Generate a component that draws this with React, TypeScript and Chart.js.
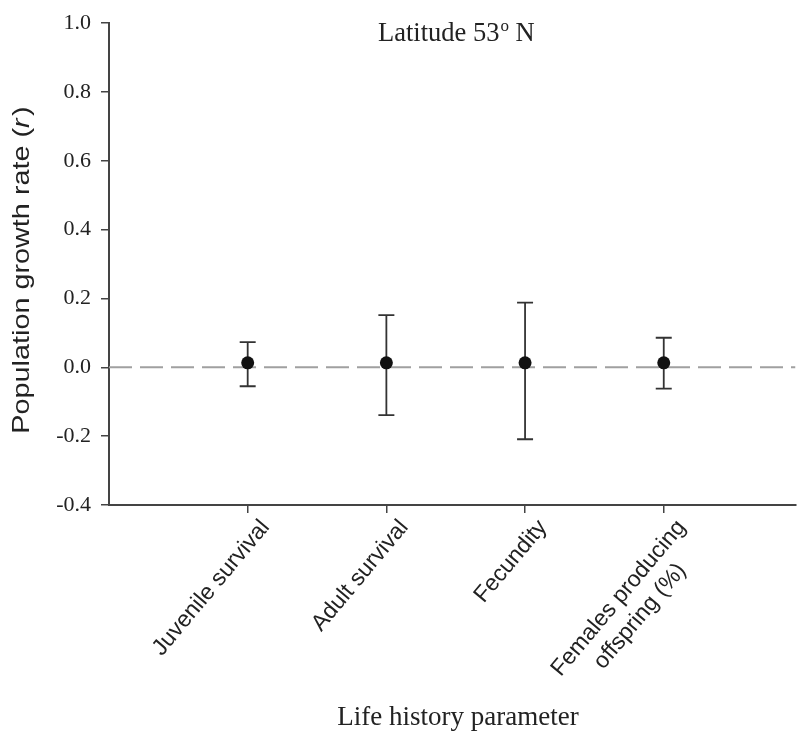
import React, { useEffect, useRef } from 'react';
import { Chart, registerables } from 'chart.js';

Chart.register(...registerables);

const categories: string[][] = [
  ['Juvenile survival'],
  ['Adult survival'],
  ['Fecundity'],
  ['Females producing', 'offspring (%)'],
];
const positions = [1, 2, 3, 4];
const means = [0.013, 0.013, 0.013, 0.013];
const upper = [0.073, 0.152, 0.188, 0.086];
const lower = [-0.055, -0.139, -0.209, -0.062];
const yTicks = [-0.4, -0.2, 0.0, 0.2, 0.4, 0.6, 0.8, 1.0];
const refLineX = [0, 4.95];
const refLineY = [0, 0];

const chartTitle = 'Latitude 53';
const chartTitleSup = 'o';
const chartTitleEnd = ' N';
const xTitle = 'Life history parameter';
const yTitleA = 'Population growth rate (';
const yTitleB = 'r';
const yTitleC = ')';

export default function App() {
  const ref = useRef<HTMLCanvasElement>(null);

  useEffect(() => {
    document.body.style.margin = '0';
    const canvas = ref.current;
    if (!canvas) return;

    const errorBars = {
      id: 'errorBars',
      afterDatasetDraw(chart: any, args: any) {
        if (args.index !== 1) return;
        const { ctx, scales } = chart;
        const x = scales.x;
        const y = scales.y;
        ctx.save();
        ctx.strokeStyle = '#333';
        ctx.lineWidth = 1.8;
        positions.forEach((p, i) => {
          const px = x.getPixelForValue(p);
          const yt = y.getPixelForValue(upper[i]);
          const yb = y.getPixelForValue(lower[i]);
          ctx.beginPath();
          ctx.moveTo(px, yt);
          ctx.lineTo(px, yb);
          ctx.moveTo(px - 8, yt);
          ctx.lineTo(px + 8, yt);
          ctx.moveTo(px - 8, yb);
          ctx.lineTo(px + 8, yb);
          ctx.stroke();
        });
        ctx.restore();
      },
    };

    const texts = {
      id: 'texts',
      afterDraw(chart: any) {
        const { ctx, scales } = chart;
        const xs = scales.x;
        ctx.save();
        ctx.fillStyle = '#222';

        // Category labels (rotated)
        const catFont = '23px "Liberation Sans"';
        const ang = (50 * Math.PI) / 180;
        positions.forEach((p, i) => {
          const px = xs.getPixelForValue(p);
          const lines = categories[i];
          ctx.save();
          ctx.font = catFont;
          const maxW = Math.max(...lines.map((l) => ctx.measureText(l).width));
          ctx.translate(px + 9, 516);
          ctx.rotate(-ang);
          ctx.textAlign = 'center';
          ctx.textBaseline = 'top';
          lines.forEach((l, k) => {
            ctx.fillText(l, -maxW / 2, k * 28);
          });
          ctx.restore();
        });

        // Title
        ctx.textAlign = 'left';
        ctx.textBaseline = 'alphabetic';
        ctx.font = '26.5px "Liberation Serif"';
        const x0 = 378;
        ctx.fillText(chartTitle, x0, 41);
        const w1 = ctx.measureText(chartTitle).width;
        ctx.font = '17px "Liberation Serif"';
        ctx.fillText(chartTitleSup, x0 + w1 + 1, 31);
        const w2 = ctx.measureText(chartTitleSup).width;
        ctx.font = '26.5px "Liberation Serif"';
        ctx.fillText(chartTitleEnd, x0 + w1 + 1 + w2, 41);

        // X title
        ctx.textAlign = 'center';
        ctx.font = '27px "Liberation Serif"';
        ctx.fillText(xTitle, 458, 725);

        // Y title
        const fN = '24px "Liberation Sans"';
        const fI = 'italic 24px "Liberation Sans"';
        ctx.font = fN;
        const a = ctx.measureText(yTitleA).width;
        const c = ctx.measureText(yTitleC).width;
        ctx.font = fI;
        const b = ctx.measureText(yTitleB).width + 2;
        const total = a + b + c;
        ctx.translate(22, 270);
        ctx.rotate(-Math.PI / 2);
        ctx.scale(1.2, 1);
        ctx.textAlign = 'left';
        ctx.textBaseline = 'middle';
        let sx = -total / 2;
        ctx.font = fN;
        ctx.fillText(yTitleA, sx, 0);
        sx += a;
        ctx.font = fI;
        ctx.fillText(yTitleB, sx, 0);
        sx += b;
        ctx.font = fN;
        ctx.fillText(yTitleC, sx, 0);
        ctx.restore();
      },
    };

    const chart = new Chart(canvas, {
      type: 'scatter',
      data: {
        datasets: [
          {
            label: 'mean',
            data: positions.map((p, i) => ({ x: p, y: means[i] })),
            pointRadius: 6.5,
            pointHoverRadius: 6.5,
            backgroundColor: '#111',
            borderColor: '#111',
            borderWidth: 0,
          },
          {
            label: 'zero',
            data: refLineX.map((v, i) => ({ x: v, y: refLineY[i] })),
            showLine: true,
            pointRadius: 0,
            borderColor: '#a0a0a0',
            borderWidth: 2,
            borderDash: [23, 8],
          } as any,
        ],
      },
      options: {
        responsive: false,
        animation: false,
        devicePixelRatio: 1,
        layout: { padding: { top: 20, right: 0, left: 0, bottom: 0 } },
        plugins: {
          legend: { display: false },
          tooltip: { enabled: false },
          title: { display: false },
        },
        scales: {
          x: {
            type: 'linear',
            min: 0,
            max: 4.95,
            afterBuildTicks: (s: any) => {
              s.ticks = positions.map((v) => ({ value: v }));
            },
            afterFit: (s: any) => {
              s.height = 231;
            },
            border: { display: true, color: '#444', width: 2 },
            grid: {
              display: true,
              drawOnChartArea: false,
              drawTicks: true,
              tickLength: 8,
              color: '#444',
              lineWidth: 1.5,
            },
            ticks: {
              display: false,
              autoSkip: false,
            },
          },
          y: {
            type: 'linear',
            min: -0.4,
            max: 1.0,
            afterBuildTicks: (s: any) => {
              s.ticks = yTicks.map((v) => ({ value: v }));
            },
            afterFit: (s: any) => {
              s.width = 109;
            },
            border: { display: true, color: '#444', width: 2 },
            grid: {
              display: true,
              drawOnChartArea: false,
              drawTicks: true,
              tickLength: 8,
              color: '#444',
              lineWidth: 1.5,
            },
            ticks: {
              padding: 10,
              color: '#222',
              font: { family: '"Liberation Serif"', size: 22 },
              callback: (v: any) => Number(v).toFixed(1),
            },
          },
        },
      },
      plugins: [errorBars, texts],
    } as any);

    return () => {
      chart.destroy();
    };
  }, []);

  return (
    <div style={{ width: 802, height: 736, background: '#fff' }}>
      <canvas ref={ref} width={802} height={736} style={{ display: 'block' }} />
    </div>
  );
}
